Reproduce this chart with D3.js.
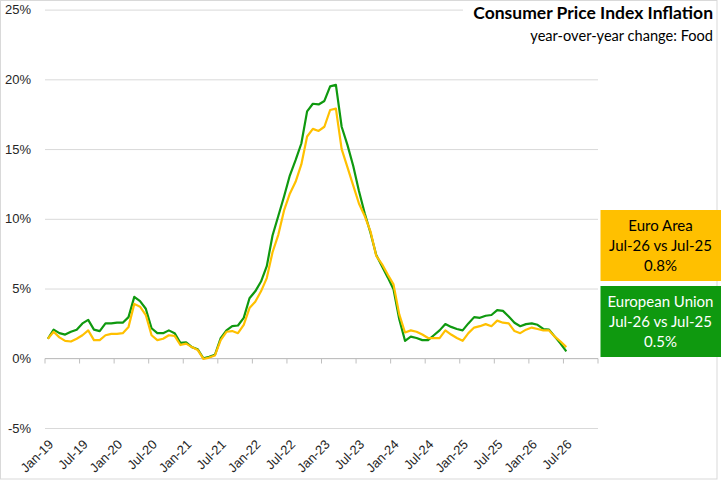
<!DOCTYPE html>
<html>
<head>
<meta charset="utf-8">
<script src="https://cdn.jsdelivr.net/npm/d3@7"></script>
<style>
  html, body { margin: 0; padding: 0; background: #fff; }
  svg { display: block; }
</style>
</head>
<body>
<div id="chart"></div>
<script>
// months on the category axis (Jan-19 .. Dec-26), data runs to Jul-26
var monthNames = ["Jan","Feb","Mar","Apr","May","Jun","Jul","Aug","Sep","Oct","Nov","Dec"];
var years = ["19","20","21","22","23","24","25","26"];
var tickLabels = ["Jan-19","Jul-19","Jan-20","Jul-20","Jan-21","Jul-21","Jan-22","Jul-22",
                  "Jan-23","Jul-23","Jan-24","Jul-24","Jan-25","Jul-25","Jan-26","Jul-26"];
var yTicks = [-5, 0, 5, 10, 15, 20, 25];

// year-over-year change, %, Food
var europeanUnion = [
  1.4, 2.05, 1.8, 1.7, 1.9, 2.05, 2.5, 2.75, 2.05, 1.95, 2.5, 2.5,
  2.55, 2.55, 2.95, 4.4, 4.1, 3.55, 2.15, 1.8, 1.8, 2.0, 1.8, 1.1,
  1.15, 0.8, 0.65, 0.0, 0.1, 0.25, 1.45, 2.0, 2.3, 2.35, 2.9, 4.3,
  4.8, 5.5, 6.6, 8.8, 10.2, 11.6, 13.1, 14.2, 15.4, 17.7, 18.25, 18.2,
  18.45, 19.5, 19.6, 16.6, 15.3, 13.8, 12.0, 10.4, 9.0, 7.4, 6.6, 5.8,
  4.95, 2.8, 1.25, 1.55, 1.45, 1.3, 1.3, 1.65, 2.0, 2.45, 2.25, 2.1,
  2.0, 2.5, 2.95, 2.9, 3.05, 3.1, 3.45, 3.4, 3.0, 2.55, 2.3, 2.45,
  2.5, 2.4, 2.1, 2.05, 1.55, 1.05, 0.5
];
var euroArea = [
  1.4, 1.9, 1.5, 1.25, 1.2, 1.4, 1.65, 2.0, 1.3, 1.3, 1.65, 1.75,
  1.75, 1.8, 2.25, 3.9, 3.7, 3.1, 1.65, 1.3, 1.4, 1.65, 1.6, 0.95,
  1.05, 0.8, 0.6, -0.05, 0.05, 0.2, 1.3, 1.9, 1.95, 1.8, 2.4, 3.6,
  4.05, 4.8, 5.75, 7.6, 8.85, 10.6, 11.8, 12.65, 13.9, 15.9, 16.45, 16.3,
  16.6, 17.8, 17.9, 15.0, 13.7, 12.4, 11.1, 10.2, 9.1, 7.35, 6.75, 6.0,
  5.3, 3.15, 1.85, 2.0, 1.9, 1.7, 1.45, 1.45, 1.45, 2.0, 1.7, 1.45,
  1.25, 1.8, 2.2, 2.3, 2.45, 2.3, 2.7, 2.55, 2.5, 1.95, 1.8, 2.05,
  2.2, 2.1, 2.0, 2.0, 1.55, 1.2, 0.8
];

var euroAreaBox = ["Euro Area", "Jul-26 vs Jul-25", "0.8%"];
var euBox = ["European Union", "Jul-26 vs Jul-25", "0.5%"];

var GREEN = "#0f990f", GOLD = "#ffc000", GRID = "#d9d9d9";

var categories = [];
years.forEach(function (yy) {
    monthNames.forEach(function (m) { categories.push(m + "-" + yy); });
});

var svg = d3.select("#chart").append("svg")
    .attr("width", 721)
    .attr("height", 481);

var x = d3.scaleBand().domain(categories).range([45, 598]);
var y = d3.scaleLinear().domain([-5, 25]).range([428, 9.6]);

function cx(i) { return x(categories[i]) + x.bandwidth() / 2; }

// chart border
svg.append("rect")
    .attr("x", 0.5).attr("y", 0.5)
    .attr("width", 716.5).attr("height", 478.5)
    .attr("fill", "#fff").attr("stroke", GRID);

// y gridlines + labels
var yAxis = svg.append("g")
    .attr("transform", "translate(45,0)")
    .call(d3.axisLeft(y).tickValues(yTicks).tickSize(-(598 - 45)).tickPadding(14)
        .tickFormat(function (d) { return d + "%"; }));
yAxis.select(".domain").remove();
yAxis.selectAll("line").attr("stroke", GRID).attr("stroke-width", 1);
yAxis.selectAll("text")
    .attr("fill", "#262626")
    .style("font-family", "'Liberation Sans', Arial, sans-serif")
    .style("font-size", "13px");

// horizontal axis on 0% with ticks between categories
var axisY = Math.round(y(0)) + 0.5;
svg.append("line")
    .attr("x1", 45).attr("x2", 598)
    .attr("y1", axisY).attr("y2", axisY)
    .attr("stroke", "#bfbfbf");
d3.range(0, categories.length + 1, 6).forEach(function (k) {
    var tx = k < categories.length ? x(categories[k]) : x.range()[1];
    svg.append("line")
        .attr("x1", tx).attr("x2", tx)
        .attr("y1", axisY).attr("y2", axisY + 5)
        .attr("stroke", "#bfbfbf");
});

// month labels at the bottom
svg.append("g").selectAll("text")
    .data(tickLabels)
    .enter().append("text")
    .attr("transform", function (d) {
        return "translate(" + (x(d) + x.bandwidth() / 2 + 3) + ",442) rotate(-45)";
    })
    .attr("text-anchor", "end")
    .attr("dy", "0.35em")
    .attr("fill", "#262626")
    .style("font-family", "'Liberation Sans', Arial, sans-serif")
    .style("font-size", "13px")
    .text(function (d) { return d; });

// lines
var line = d3.line()
    .x(function (d, i) { return cx(i); })
    .y(function (d) { return y(d); });

svg.append("path").datum(europeanUnion)
    .attr("d", line)
    .attr("fill", "none").attr("stroke", GREEN)
    .attr("stroke-width", 2.2).attr("stroke-linejoin", "round");

svg.append("path").datum(euroArea)
    .attr("d", line)
    .attr("fill", "none").attr("stroke", GOLD)
    .attr("stroke-width", 2.2).attr("stroke-linejoin", "round");

// title block
svg.append("rect")
    .attr("x", 463).attr("y", 1).attr("width", 253).attr("height", 44)
    .attr("fill", "#fff");
svg.append("text")
    .attr("x", 713).attr("y", 19)
    .attr("text-anchor", "end")
    .attr("fill", "#000")
    .style("font-family", "Lato, 'Liberation Sans', sans-serif")
    .style("font-weight", "bold")
    .style("font-size", "17.5px")
    .text("Consumer Price Index Inflation");
svg.append("text")
    .attr("x", 713).attr("y", 41)
    .attr("text-anchor", "end")
    .attr("fill", "#000")
    .style("font-family", "Lato, 'Liberation Sans', sans-serif")
    .style("font-size", "14.6px")
    .text("year-over-year change: Food");

// value boxes
function valueBox(lines, top, fill, color) {
    var g = svg.append("g");
    g.append("rect")
        .attr("x", 600.5).attr("y", top)
        .attr("width", 121).attr("height", 71)
        .attr("fill", fill);
    g.selectAll("text")
        .data(lines)
        .enter().append("text")
        .attr("x", 660.5)
        .attr("y", function (d, i) { return top + 21 + i * 20; })
        .attr("text-anchor", "middle")
        .attr("fill", color)
        .style("font-family", "Lato, 'Liberation Sans', sans-serif")
        .style("font-size", "15px")
        .text(function (d) { return d; });
}
valueBox(euroAreaBox, 210, GOLD, "#000");
valueBox(euBox, 286, GREEN, "#fff");
</script>
</body>
</html>
